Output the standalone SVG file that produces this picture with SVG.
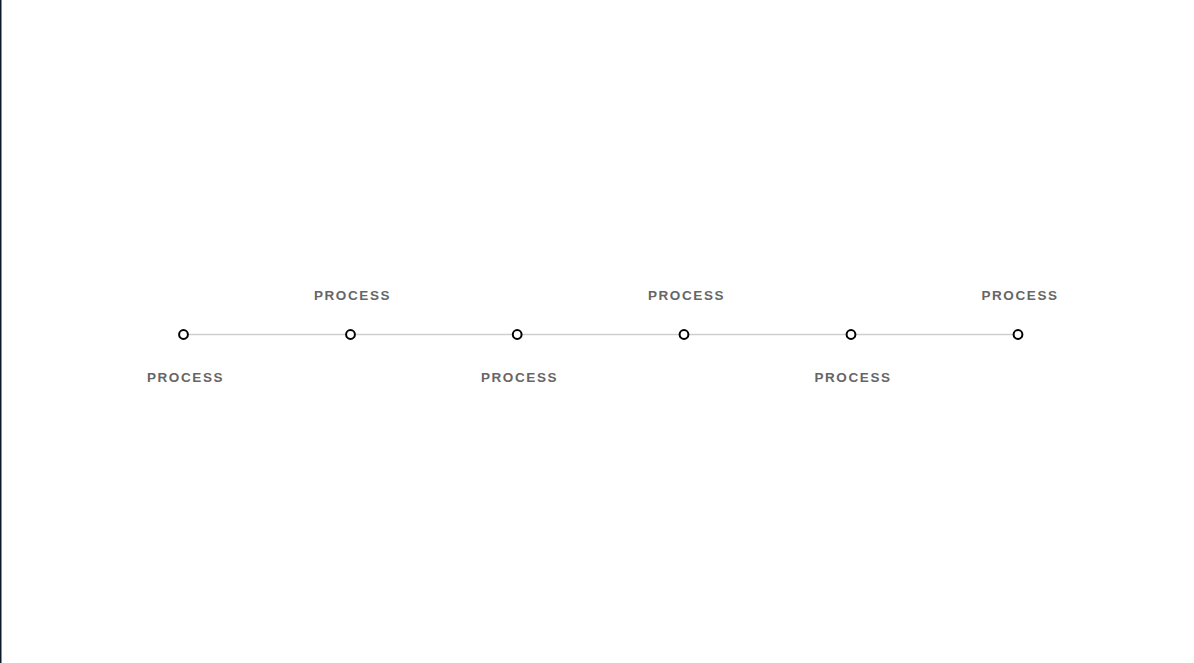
<svg xmlns="http://www.w3.org/2000/svg" width="1194" height="663" viewBox="0 0 1194 663">
<style>
.lbl{font-family:"Liberation Sans",Arial,sans-serif;font-weight:bold;font-size:13.5px;letter-spacing:1.6px;fill:#666;text-anchor:middle}
.dot{fill:#fff;stroke:#000;stroke-width:2}
.conn{stroke:#cfcfcf;stroke-width:1.5;fill:none}
</style>
<rect x="0" y="0" width="1194" height="663" fill="#fff"/>
<rect x="0" y="0" width="1.5" height="663" fill="#0d1a2b"/>
<g id="connectors">
<line class="conn" x1="183.5" y1="334.5" x2="1018" y2="334.5"/>
</g>
<g id="n1"><circle class="dot" cx="183.5" cy="334.5" r="4.4"/><text class="lbl" x="185.5" y="382">PROCESS</text></g>
<g id="n2"><circle class="dot" cx="350.5" cy="334.5" r="4.4"/><text class="lbl" x="352.5" y="300">PROCESS</text></g>
<g id="n3"><circle class="dot" cx="517.2" cy="334.5" r="4.4"/><text class="lbl" x="519.5" y="382">PROCESS</text></g>
<g id="n4"><circle class="dot" cx="684" cy="334.5" r="4.4"/><text class="lbl" x="686.5" y="300">PROCESS</text></g>
<g id="n5"><circle class="dot" cx="851" cy="334.5" r="4.4"/><text class="lbl" x="853" y="382">PROCESS</text></g>
<g id="n6"><circle class="dot" cx="1018" cy="334.5" r="4.4"/><text class="lbl" x="1020" y="300">PROCESS</text></g>
</svg>
